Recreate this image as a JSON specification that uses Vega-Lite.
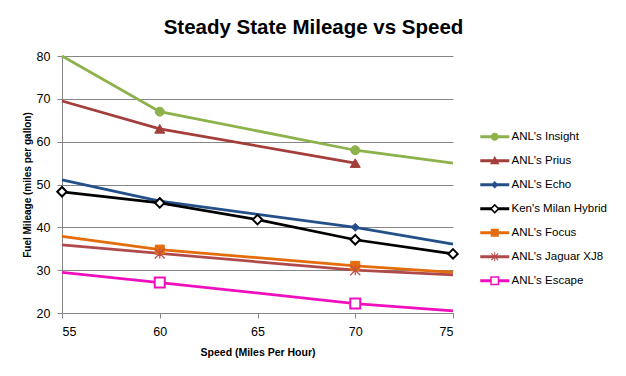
{
  "$schema": "https://vega.github.io/schema/vega-lite/v6.json",
  "width": 391,
  "height": 257,
  "autosize": {"type": "none"},
  "padding": {"left": 62, "top": 56, "right": 173, "bottom": 63},
  "background": "white",
  "title": {
    "text": "Steady State Mileage vs Speed",
    "font": "Liberation Sans",
    "fontSize": 20.5,
    "fontWeight": "bold",
    "color": "#000000",
    "anchor": "middle",
    "frame": "group",
    "dx": 56,
    "offset": 12
  },
  "config": {
    "view": {"stroke": null},
    "axis": {
      "labelFont": "Liberation Sans",
      "labelFontSize": 12.5,
      "labelColor": "#000000",
      "titleFont": "Liberation Sans",
      "titleFontWeight": "bold",
      "titleColor": "#000000",
      "domainColor": "#868686",
      "tickColor": "#868686",
      "gridColor": "#868686",
      "tickSize": 5,
      "domainWidth": 1,
      "tickWidth": 1,
      "gridWidth": 1
    },
    "legend": {
      "orient": "none",
      "legendX": 427,
      "legendY": 75,
      "title": null,
      "labelFont": "Liberation Sans",
      "labelFontSize": 11.5,
      "labelColor": "#000000",
      "symbolSize": 100,
      "symbolStrokeWidth": 0,
      "symbolOpacity": 1,
      "rowPadding": 11,
      "labelOffset": 11
    }
  },
  "data": {
    "values": [
      {"series": "ANL's Insight", "speed": 55, "mpg": 80, "marker": false},
      {"series": "ANL's Insight", "speed": 60, "mpg": 67, "marker": true},
      {"series": "ANL's Insight", "speed": 70, "mpg": 58, "marker": true},
      {"series": "ANL's Insight", "speed": 75, "mpg": 55, "marker": false},
      {"series": "ANL's Prius", "speed": 55, "mpg": 69.5, "marker": false},
      {"series": "ANL's Prius", "speed": 60, "mpg": 63, "marker": true},
      {"series": "ANL's Prius", "speed": 70, "mpg": 55, "marker": true},
      {"series": "ANL's Echo", "speed": 55, "mpg": 51.1, "marker": false},
      {"series": "ANL's Echo", "speed": 60, "mpg": 46.1, "marker": true},
      {"series": "ANL's Echo", "speed": 70, "mpg": 40, "marker": true},
      {"series": "ANL's Echo", "speed": 75, "mpg": 36.1, "marker": false},
      {"series": "Ken's Milan Hybrid", "speed": 55, "mpg": 48.3, "marker": true},
      {"series": "Ken's Milan Hybrid", "speed": 60, "mpg": 45.7, "marker": true},
      {"series": "Ken's Milan Hybrid", "speed": 65, "mpg": 41.8, "marker": true},
      {"series": "Ken's Milan Hybrid", "speed": 70, "mpg": 37.1, "marker": true},
      {"series": "Ken's Milan Hybrid", "speed": 75, "mpg": 33.8, "marker": true},
      {"series": "ANL's Focus", "speed": 55, "mpg": 37.9, "marker": false},
      {"series": "ANL's Focus", "speed": 60, "mpg": 34.8, "marker": true},
      {"series": "ANL's Focus", "speed": 70, "mpg": 31, "marker": true},
      {"series": "ANL's Focus", "speed": 75, "mpg": 29.5, "marker": false},
      {"series": "ANL's Jaguar XJ8", "speed": 55, "mpg": 35.9, "marker": false},
      {"series": "ANL's Jaguar XJ8", "speed": 60, "mpg": 33.9, "marker": true},
      {"series": "ANL's Jaguar XJ8", "speed": 70, "mpg": 30, "marker": true},
      {"series": "ANL's Jaguar XJ8", "speed": 75, "mpg": 28.9, "marker": false},
      {"series": "ANL's Escape", "speed": 55, "mpg": 29.5, "marker": false},
      {"series": "ANL's Escape", "speed": 60, "mpg": 27.1, "marker": true},
      {"series": "ANL's Escape", "speed": 70, "mpg": 22.2, "marker": true},
      {"series": "ANL's Escape", "speed": 75, "mpg": 20.5, "marker": false}
    ]
  },
  "encoding": {
    "x": {
      "field": "speed",
      "type": "quantitative",
      "scale": {"domain": [55, 75], "nice": false, "zero": false},
      "axis": {
        "values": [55, 60, 65, 70, 75],
        "title": "Speed (Miles Per Hour)",
        "titleFontSize": 10.5,
        "titlePadding": 10,
        "labelPadding": 7,
        "grid": false
      }
    },
    "y": {
      "field": "mpg",
      "type": "quantitative",
      "scale": {"domain": [20, 80], "nice": false, "zero": false},
      "axis": {
        "values": [20, 30, 40, 50, 60, 70, 80],
        "title": "Fuel Mileage  (miles per gallon)",
        "titleFontSize": 10,
        "titlePadding": 4,
        "labelPadding": 7,
        "grid": true
      }
    }
  },
  "layer": [
    {
      "mark": {"type": "line", "strokeWidth": 2.75},
      "encoding": {
        "color": {
          "field": "series",
          "type": "nominal",
          "scale": {
            "domain": ["ANL's Insight", "ANL's Prius", "ANL's Echo", "Ken's Milan Hybrid", "ANL's Focus", "ANL's Jaguar XJ8", "ANL's Escape"],
            "range": ["#8DB24C", "#A33E3B", "#24508A", "#000000", "#E46C0A", "#B0494A", "#F00FBE"]
          },
          "legend": {}
        }
      }
    },
    {
      "transform": [{"filter": "datum.marker"}],
      "mark": {"type": "point", "filled": true, "opacity": 0},
      "encoding": {
        "color": {"field": "series", "type": "nominal", "legend": {}},
        "shape": {
          "field": "series",
          "type": "nominal",
          "scale": {
            "domain": ["ANL's Insight", "ANL's Prius", "ANL's Echo", "Ken's Milan Hybrid", "ANL's Focus", "ANL's Jaguar XJ8", "ANL's Escape"],
            "range": [
              "M-2.9,-0.3H2.9V0.3H-2.9ZM-0.8,0A0.8,0.8 0 1,1 0.8,0A0.8,0.8 0 1,1 -0.8,0Z",
              "M-2.9,-0.3H2.9V0.3H-2.9ZM0,-0.95L0.95,0.7L-0.95,0.7Z",
              "M-2.9,-0.3H2.9V0.3H-2.9ZM0,-0.75L0.75,0L0,0.75L-0.75,0Z",
              "M-2.9,-0.3H-0.6V0.3H-2.9ZM0.6,-0.3H2.9V0.3H0.6ZM0,-1L1,0L0,1L-1,0ZM0,-0.55L-0.55,0L0,0.55L0.55,0Z",
              "M-2.9,-0.3H2.9V0.3H-2.9ZM-0.8,-0.8H0.8V0.8H-0.8Z",
              "M-2.9,-0.3H2.9V0.3H-2.9ZM-0.1,-0.9H0.1V0.9H-0.1ZM-0.75,-0.6L-0.6,-0.75L0.75,0.6L0.6,0.75ZM0.6,-0.75L0.75,-0.6L-0.6,0.75L-0.75,0.6Z",
              "M-2.9,-0.3H-0.75V0.3H-2.9ZM0.75,-0.3H2.9V0.3H0.75ZM-0.9,-0.9H0.9V0.9H-0.9ZM-0.6,-0.6V0.6H0.6V-0.6Z"
            ]
          },
          "legend": {}
        }
      }
    },
    {
      "transform": [{"filter": "datum.marker"}],
      "mark": {"type": "point", "opacity": 1},
      "encoding": {
        "shape": {
          "condition": [
            {"test": "datum.series == \"ANL's Insight\"", "value": "circle"},
            {"test": "datum.series == \"ANL's Prius\"", "value": "triangle-up"},
            {"test": "datum.series == \"ANL's Echo\"", "value": "diamond"},
            {"test": "datum.series == \"Ken's Milan Hybrid\"", "value": "diamond"},
            {"test": "datum.series == \"ANL's Focus\"", "value": "square"},
            {"test": "datum.series == \"ANL's Jaguar XJ8\"", "value": "M-1,-1L1,1M-1,1L1,-1M0,-1L0,1"}
          ],
          "value": "square"
        },
        "fill": {
          "condition": [
            {"test": "datum.series == \"ANL's Insight\"", "value": "#8DB24C"},
            {"test": "datum.series == \"ANL's Prius\"", "value": "#A33E3B"},
            {"test": "datum.series == \"ANL's Echo\"", "value": "#24508A"},
            {"test": "datum.series == \"Ken's Milan Hybrid\"", "value": "#ffffff"},
            {"test": "datum.series == \"ANL's Focus\"", "value": "#E46C0A"},
            {"test": "datum.series == \"ANL's Jaguar XJ8\"", "value": "transparent"}
          ],
          "value": "#ffffff"
        },
        "stroke": {
          "condition": [
            {"test": "datum.series == \"ANL's Insight\"", "value": "#8DB24C"},
            {"test": "datum.series == \"ANL's Prius\"", "value": "#A33E3B"},
            {"test": "datum.series == \"ANL's Echo\"", "value": "#24508A"},
            {"test": "datum.series == \"Ken's Milan Hybrid\"", "value": "#000000"},
            {"test": "datum.series == \"ANL's Focus\"", "value": "#E46C0A"},
            {"test": "datum.series == \"ANL's Jaguar XJ8\"", "value": "#C0504D"}
          ],
          "value": "#F00FBE"
        },
        "size": {
          "condition": [
            {"test": "datum.series == \"ANL's Insight\"", "value": 81},
            {"test": "datum.series == \"ANL's Prius\"", "value": 100},
            {"test": "datum.series == \"ANL's Echo\"", "value": 64},
            {"test": "datum.series == \"Ken's Milan Hybrid\"", "value": 90},
            {"test": "datum.series == \"ANL's Focus\"", "value": 81}
          ],
          "value": 100
        },
        "strokeWidth": {
          "condition": [
            {"test": "datum.series == \"Ken's Milan Hybrid\"", "value": 2},
            {"test": "datum.series == \"ANL's Escape\"", "value": 2},
            {"test": "datum.series == \"ANL's Jaguar XJ8\"", "value": 1.3}
          ],
          "value": 1
        }
      }
    }
  ]
}
